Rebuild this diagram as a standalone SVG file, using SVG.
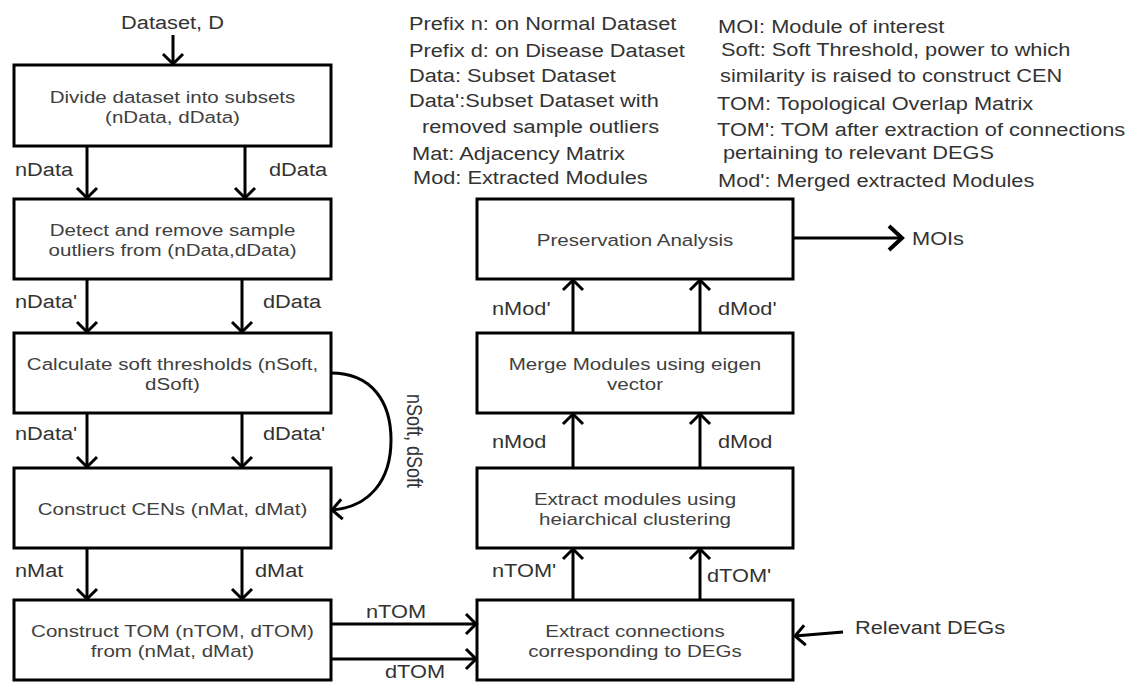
<svg xmlns="http://www.w3.org/2000/svg" width="1142" height="682" viewBox="0 0 1142 682">
  <style>
    .box { fill: #ffffff; stroke: #000000; stroke-width: 3; }
    .wire { fill: none; stroke: #000000; stroke-width: 3; }
    .btxt { font-family: "Liberation Sans", Arial, sans-serif; font-size: 17px; fill: #404040; text-anchor: middle; }
    .lbl { font-family: "Liberation Sans", Arial, sans-serif; font-size: 18px; fill: #333333; }
    .key { font-family: "Liberation Sans", Arial, sans-serif; font-size: 18px; fill: #333333; }
  </style>
  <defs>
    <marker id="chev" markerUnits="userSpaceOnUse" markerWidth="30" markerHeight="30" viewBox="-15 -15 30 30" refX="0" refY="0" orient="auto" overflow="visible">
      <path d="M-10,-10 L0,0 L-10,10" fill="none" stroke="#000000" stroke-width="3"/>
    </marker>
    <marker id="chevBig" markerUnits="userSpaceOnUse" markerWidth="34" markerHeight="34" viewBox="-17 -17 34 34" refX="0" refY="0" orient="auto" overflow="visible">
      <path d="M-13,-12 L0,0 L-13,12" fill="none" stroke="#000000" stroke-width="4"/>
    </marker>
  </defs>
  <rect width="1142" height="682" fill="#ffffff"/>

  <!-- legend -->
  <g id="legend">
    <text class="key" transform="matrix(1.21 0 0 1 409 30)">Prefix n: on Normal Dataset</text>
    <text class="key" transform="matrix(1.21 0 0 1 409 57)">Prefix d: on Disease Dataset</text>
    <text class="key" transform="matrix(1.21 0 0 1 409 82)">Data: Subset Dataset</text>
    <text class="key" transform="matrix(1.21 0 0 1 409 107)">Data':Subset Dataset with</text>
    <text class="key" transform="matrix(1.21 0 0 1 422 133)">removed sample outliers</text>
    <text class="key" transform="matrix(1.21 0 0 1 412 160)">Mat: Adjacency Matrix</text>
    <text class="key" transform="matrix(1.21 0 0 1 413 184)">Mod: Extracted Modules</text>
    <text class="key" transform="matrix(1.21 0 0 1 718 33)">MOI: Module of interest</text>
    <text class="key" transform="matrix(1.21 0 0 1 721 56)">Soft: Soft Threshold, power to which</text>
    <text class="key" transform="matrix(1.21 0 0 1 720 82)">similarity is raised to construct CEN</text>
    <text class="key" transform="matrix(1.21 0 0 1 717 110)">TOM: Topological Overlap Matrix</text>
    <text class="key" transform="matrix(1.21 0 0 1 717 136)">TOM': TOM after extraction of connections</text>
    <text class="key" transform="matrix(1.21 0 0 1 723 159)">pertaining to relevant DEGS</text>
    <text class="key" transform="matrix(1.21 0 0 1 718 187)">Mod': Merged extracted Modules</text>
  </g>

  <!-- left column -->
  <g id="divide">
    <rect class="box" x="14" y="65" width="317" height="81"/>
    <text class="btxt" transform="matrix(1.21 0 0 1 172.5 103)">Divide dataset into subsets</text>
    <text class="btxt" transform="matrix(1.21 0 0 1 172.5 123)">(nData, dData)</text>
  </g>
  <g id="outliers">
    <rect class="box" x="14" y="199" width="317" height="80"/>
    <text class="btxt" transform="matrix(1.21 0 0 1 172.5 236)">Detect and remove sample</text>
    <text class="btxt" transform="matrix(1.21 0 0 1 172.5 256)">outliers from (nData,dData)</text>
  </g>
  <g id="thresholds">
    <rect class="box" x="14" y="333" width="317" height="80"/>
    <text class="btxt" transform="matrix(1.21 0 0 1 172.5 370)">Calculate soft thresholds (nSoft,</text>
    <text class="btxt" transform="matrix(1.21 0 0 1 172.5 390)">dSoft)</text>
  </g>
  <g id="cens">
    <rect class="box" x="14" y="468" width="317" height="80"/>
    <text class="btxt" transform="matrix(1.21 0 0 1 172.5 515)">Construct CENs (nMat, dMat)</text>
  </g>
  <g id="tom">
    <rect class="box" x="14" y="600" width="317" height="80"/>
    <text class="btxt" transform="matrix(1.21 0 0 1 172.5 637)">Construct TOM (nTOM, dTOM)</text>
    <text class="btxt" transform="matrix(1.21 0 0 1 172.5 657)">from (nMat, dMat)</text>
  </g>

  <!-- right column -->
  <g id="preservation">
    <rect class="box" x="477" y="199" width="316" height="80"/>
    <text class="btxt" transform="matrix(1.21 0 0 1 635 246)">Preservation Analysis</text>
  </g>
  <g id="merge">
    <rect class="box" x="477" y="333" width="316" height="80"/>
    <text class="btxt" transform="matrix(1.21 0 0 1 635 370)">Merge Modules using eigen</text>
    <text class="btxt" transform="matrix(1.21 0 0 1 635 390)">vector</text>
  </g>
  <g id="modules">
    <rect class="box" x="477" y="468" width="316" height="80"/>
    <text class="btxt" transform="matrix(1.21 0 0 1 635 505)">Extract modules using</text>
    <text class="btxt" transform="matrix(1.21 0 0 1 635 525)">heiarchical clustering</text>
  </g>
  <g id="connections">
    <rect class="box" x="477" y="600" width="316" height="80"/>
    <text class="btxt" transform="matrix(1.21 0 0 1 635 637)">Extract connections</text>
    <text class="btxt" transform="matrix(1.21 0 0 1 635 657)">corresponding to DEGs</text>
  </g>

  <!-- connectors -->
  <g id="connectors">
    <line class="wire" x1="173" y1="35" x2="173" y2="64" marker-end="url(#chev)"/>
    <line class="wire" x1="87" y1="146" x2="87" y2="198" marker-end="url(#chev)"/>
    <line class="wire" x1="245" y1="146" x2="245" y2="198" marker-end="url(#chev)"/>
    <line class="wire" x1="87" y1="279" x2="87" y2="332" marker-end="url(#chev)"/>
    <line class="wire" x1="242" y1="279" x2="242" y2="332" marker-end="url(#chev)"/>
    <line class="wire" x1="87" y1="413" x2="87" y2="467" marker-end="url(#chev)"/>
    <line class="wire" x1="242" y1="413" x2="242" y2="467" marker-end="url(#chev)"/>
    <line class="wire" x1="87" y1="548" x2="87" y2="599" marker-end="url(#chev)"/>
    <line class="wire" x1="242" y1="548" x2="242" y2="599" marker-end="url(#chev)"/>
    <path class="wire" d="M331,373 C372,373 391,402 391,440 C391,480 370,507 332,510" marker-end="url(#chev)"/>
    <line class="wire" x1="331" y1="624" x2="476" y2="624" marker-end="url(#chev)"/>
    <line class="wire" x1="331" y1="659" x2="476" y2="659" marker-end="url(#chev)"/>
    <line class="wire" x1="573" y1="600" x2="573" y2="549" marker-end="url(#chev)"/>
    <line class="wire" x1="700" y1="600" x2="700" y2="549" marker-end="url(#chev)"/>
    <line class="wire" x1="573" y1="468" x2="573" y2="414" marker-end="url(#chev)"/>
    <line class="wire" x1="700" y1="468" x2="700" y2="414" marker-end="url(#chev)"/>
    <line class="wire" x1="573" y1="333" x2="573" y2="280" marker-end="url(#chev)"/>
    <line class="wire" x1="700" y1="333" x2="700" y2="280" marker-end="url(#chev)"/>
    <line class="wire" x1="793" y1="238" x2="902" y2="238" stroke-width="4" marker-end="url(#chevBig)"/>
    <line class="wire" x1="843" y1="632" x2="795" y2="636" marker-end="url(#chev)"/>
  </g>

  <!-- connector labels -->
  <g id="labels">
    <text class="lbl" transform="matrix(1.21 0 0 1 172.5 29)" text-anchor="middle">Dataset, D</text>
    <text class="lbl" transform="matrix(1.21 0 0 1 15 176)">nData</text>
    <text class="lbl" transform="matrix(1.21 0 0 1 269 176)">dData</text>
    <text class="lbl" transform="matrix(1.21 0 0 1 15 308)">nData'</text>
    <text class="lbl" transform="matrix(1.21 0 0 1 263 308)">dData</text>
    <text class="lbl" transform="matrix(1.21 0 0 1 15 440)">nData'</text>
    <text class="lbl" transform="matrix(1.21 0 0 1 263 440)">dData'</text>
    <text class="lbl" transform="matrix(1.21 0 0 1 15 577)">nMat</text>
    <text class="lbl" transform="matrix(1.21 0 0 1 255 577)">dMat</text>
    <text class="lbl" transform="matrix(0 1 -1.21 0 407 441)" text-anchor="middle">nSoft, dSoft</text>
    <text class="lbl" transform="matrix(1.21 0 0 1 366 618)">nTOM</text>
    <text class="lbl" transform="matrix(1.21 0 0 1 385 678)">dTOM</text>
    <text class="lbl" transform="matrix(1.21 0 0 1 492 577)">nTOM'</text>
    <text class="lbl" transform="matrix(1.21 0 0 1 707 582)">dTOM'</text>
    <text class="lbl" transform="matrix(1.21 0 0 1 492 448)">nMod</text>
    <text class="lbl" transform="matrix(1.21 0 0 1 718 448)">dMod</text>
    <text class="lbl" transform="matrix(1.21 0 0 1 492 315)">nMod'</text>
    <text class="lbl" transform="matrix(1.21 0 0 1 718 315)">dMod'</text>
    <text class="lbl" transform="matrix(1.21 0 0 1 912 245)">MOIs</text>
    <text class="lbl" transform="matrix(1.21 0 0 1 855 634)">Relevant DEGs</text>
  </g>
</svg>
